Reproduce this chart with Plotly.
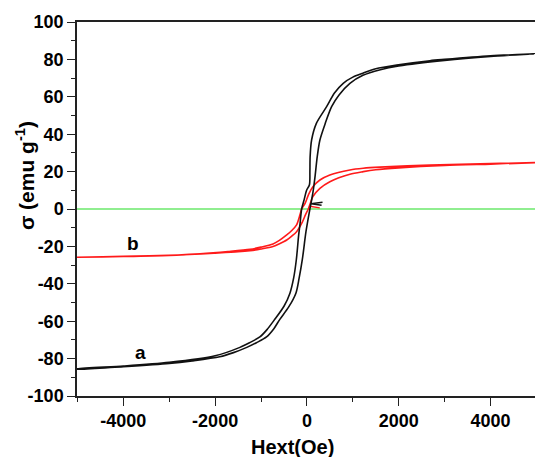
import plotly.graph_objects as go

# Sample a: hysteresis loop, descending field branch then ascending branch
a_desc_h = [4960, 4000, 3000, 2680, 1955, 1500, 1220, 1000, 791, 600, 429, 206, 102, 70, 65, 55,
            -7, -60, -115, -150, -180, -230, -290, -370, -500, -700, -870, -1025, -1250, -1460, -2000, -3000, -4000, -5010]
a_desc_m = [83.0, 81.9, 80.0, 79.3, 77.0, 75.0, 72.6, 70.5, 67.2, 62.0, 54.7, 45.8, 36.9, 28.0, 20.0, 13.0,
            10.0, 5.0, 0.0, -8.0, -14.0, -27.0, -37.0, -45.0, -52.0, -59.0, -64.5, -68.4, -71.5, -74.0, -78.5, -82.0, -84.0, -85.5]
a_asc_h = [-5010, -4000, -3000, -2500, -1900, -1600, -1310, -1100, -880, -720, -590, -400, -240,
           -170, -100, -20, 65, 102, 138, 180, 225, 283, 400, 538, 700, 937, 1220, 1600, 2000, 3000, 4000, 4960]
a_asc_m = [-85.7, -84.3, -82.6, -81.2, -79.0, -76.8, -74.0, -71.5, -68.4, -64.0, -59.0, -52.5, -45.0,
           -37.0, -27.0, -12.0, 0.0, 4.8, 10.0, 18.0, 28.0, 36.9, 45.8, 54.7, 61.0, 67.2, 71.5, 74.5, 76.5, 79.5, 81.6, 83.0]
a_init_h = [340, 90, 320]
a_init_m = [3.6, 2.8, 2.0]

# Sample b: hysteresis loop
b_desc_h = [4970, 4000, 2680, 1590, 1227, 937, 500, 283, 130, 40, -40, -115, -150, -225, -330, -440,
            -600, -740, -1000, -1240, -1720, -2330, -2810, -4000, -5010]
b_desc_m = [24.8, 24.3, 23.5, 22.4, 21.8, 20.9, 18.2, 15.5, 11.9, 8.0, 3.0, 0.0, -3.0, -8.5, -11.5, -13.9,
            -16.8, -18.7, -20.4, -21.6, -22.8, -24.0, -24.6, -25.3, -25.8]
b_asc_h = [-5010, -4000, -3000, -2000, -1500, -1240, -1000, -740, -600, -440, -330, -225, -100, -30, 30,
           80, 130, 283, 500, 937, 1227, 1500, 2000, 3000, 4000, 4970]
b_asc_m = [-25.8, -25.4, -24.8, -23.6, -22.9, -22.3, -21.4, -20.1, -18.6, -16.6, -14.5, -12.1, -7.0, -3.0, 0.0,
           3.5, 6.6, 11.0, 14.6, 18.6, 20.0, 21.0, 22.0, 23.3, 24.0, 24.7]
b_init_h = [280, 60]
b_init_m = [0.6, 1.5]

# Curve labels
label_text = ["a", "b"]
label_h = [-3620, -3790]
label_m = [-76.5, -18.2]

x_range = [-5010, 4970]
y_range = [-100, 100]
x_ticks = [-4000, -2000, 0, 2000, 4000]
y_ticks = [-100, -80, -60, -40, -20, 0, 20, 40, 60, 80, 100]

FONT = "Liberation Sans, Arial, sans-serif"

fig = go.Figure()

# zero line
fig.add_trace(go.Scatter(x=x_range, y=[0, 0], mode="lines",
                         line=dict(color="#22dd22", width=1.2), hoverinfo="skip"))

line_spec = dict(shape="spline", smoothing=0.8, width=1.6)
fig.add_trace(go.Scatter(x=b_desc_h + b_asc_h, y=b_desc_m + b_asc_m, mode="lines",
                         line=dict(color="#ff1a1a", **line_spec)))
fig.add_trace(go.Scatter(x=b_init_h, y=b_init_m, mode="lines",
                         line=dict(color="#ff1a1a", width=1.4)))
fig.add_trace(go.Scatter(x=a_desc_h + a_asc_h, y=a_desc_m + a_asc_m, mode="lines",
                         line=dict(color="#111111", **line_spec)))
fig.add_trace(go.Scatter(x=a_init_h, y=a_init_m, mode="lines",
                         line=dict(color="#111111", width=1.4)))

for t, h, m in zip(label_text, label_h, label_m):
    fig.add_annotation(x=h, y=m, text=f"<b>{t}</b>", showarrow=False,
                       font=dict(family=FONT, size=19, color="#000"))

# axis titles
fig.add_annotation(xref="paper", yref="paper", x=0.4705, y=-0.1356,
                   text="<b>Hext(Oe)</b>", showarrow=False,
                   xanchor="center", yanchor="middle",
                   font=dict(family=FONT, size=20, color="#000"))
fig.add_annotation(xref="paper", yref="paper", x=-0.1135, y=0.588,
                   text="<b>σ (emu g<sup>-1</sup>)</b>", showarrow=False, textangle=-90,
                   xanchor="center", yanchor="middle",
                   font=dict(family=FONT, size=21, color="#000"))

fig.update_layout(
    width=535, height=457,
    margin=dict(l=77, r=0, t=22, b=61),
    paper_bgcolor="white", plot_bgcolor="white",
    showlegend=False,
    font=dict(family=FONT, size=18, color="#000"),
    xaxis=dict(range=x_range, tickvals=x_ticks,
               ticktext=[f"<b>{v}</b>" for v in x_ticks],
               showgrid=False, zeroline=False,
               showline=True, linecolor="#222", linewidth=1.5, mirror=True,
               ticks="outside", ticklen=8, tickwidth=1.3, tickcolor="#222",
               minor=dict(dtick=1000, tick0=-5000, ticks="outside", ticklen=4,
                          tickwidth=1.2, tickcolor="#222", showgrid=False),
               tickfont=dict(family=FONT, size=18, color="#000")),
    yaxis=dict(range=y_range, tickvals=y_ticks,
               ticktext=[f"<b>{v}</b>" for v in y_ticks],
               showgrid=False, zeroline=False,
               showline=True, linecolor="#222", linewidth=1.5,
               ticks="outside", ticklen=8, tickwidth=1.3, tickcolor="#222",
               minor=dict(dtick=10, tick0=0, ticks="outside", ticklen=4,
                          tickwidth=1.2, tickcolor="#222", showgrid=False),
               tickfont=dict(family=FONT, size=18, color="#000")),
)

fig.write_html("out.html")
